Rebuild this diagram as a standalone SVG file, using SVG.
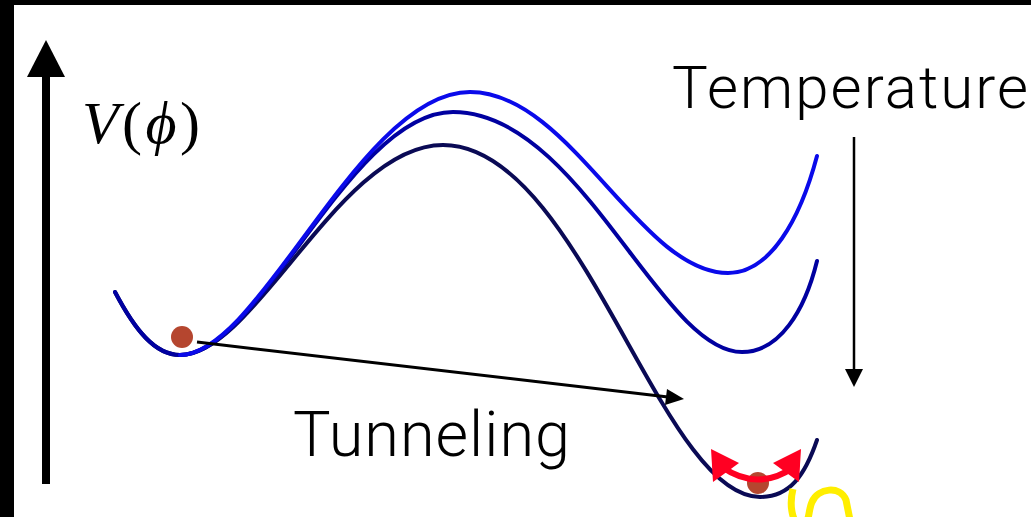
<svg xmlns="http://www.w3.org/2000/svg" width="1031" height="517" viewBox="0 0 1031 517">
<style>
.curve{fill:none;stroke-width:4;stroke-linecap:round}
.lbl{font-family:"Roboto","Liberation Sans",sans-serif;font-weight:300;fill:#000}
.math{font-family:"Liberation Serif","DejaVu Serif",serif;fill:#000}
</style>
<rect x="0" y="0" width="1031" height="517" fill="#fff"/>
<rect x="0" y="0" width="1031" height="5" fill="#000"/>
<rect x="0" y="0" width="14" height="517" fill="#000"/>
<g id="axis">
<line x1="46" y1="74" x2="46" y2="484" stroke="#000" stroke-width="8"/>
<polygon points="46,40 27,77 65,77" fill="#000"/>
<text class="math" x="82" y="143" font-size="60" textLength="118" lengthAdjust="spacing"><tspan font-style="italic">V</tspan>(<tspan font-style="italic">ϕ</tspan>)</text>
</g>
<g id="curves">
<path id="curve3" class="curve" stroke="#0a0a55" d="M115,292 C135,330 155,355 180,355 C255,355 340,145 443,145 C580,145 660,497 760,497 C790,497 805,475 817,440"/>
<path id="curve2" class="curve" stroke="#0000a0" d="M115,292 C135,330 155,355 180,355 C260,355 350,112 453,112 C580,112 660,352 742,352 C780,352 805,310 817,261"/>
<path id="curve1" class="curve" stroke="#0a0aea" d="M180,355 C260,355 360,92 470,92 C570,92 640,273 728,273 C770,273 800,220 817,156"/>
</g>
<g id="balls">
<circle cx="182" cy="337" r="11" fill="#b5462f"/>
<circle cx="758" cy="483" r="11" fill="#b5462f"/>
</g>
<g id="connectors">
<g id="tunneling-arrow">
<line x1="197" y1="342" x2="668" y2="397" stroke="#000" stroke-width="3"/>
<polygon points="684,399 667,389 665,405" fill="#000"/>
</g>
<g id="temperature-arrow">
<line x1="854" y1="137" x2="854" y2="372" stroke="#000" stroke-width="2.5"/>
<polygon points="854,387 845,369 863,369" fill="#000"/>
</g>
<g id="oscillation">
<path d="M722,467 Q758,492 794,467" fill="none" stroke="#ff0022" stroke-width="6"/>
<polygon points="711,449 739,463 713,482" fill="#ff0022"/>
<polygon points="801,449 773,463 799,482" fill="#ff0022"/>
</g>
<path id="wave" d="M793,489 C789,505 792,525 802,525 C810,525 808,510 812,502 C818,488 840,485 846,500 L850,520" fill="none" stroke="#ffee00" stroke-width="7"/>
</g>
<g id="labels">
<text class="lbl" x="672" y="108" font-size="60" textLength="356" lengthAdjust="spacing">Temperature</text>
<text class="lbl" x="293" y="456" font-size="63" textLength="277" lengthAdjust="spacing">Tunneling</text>
</g>
</svg>
